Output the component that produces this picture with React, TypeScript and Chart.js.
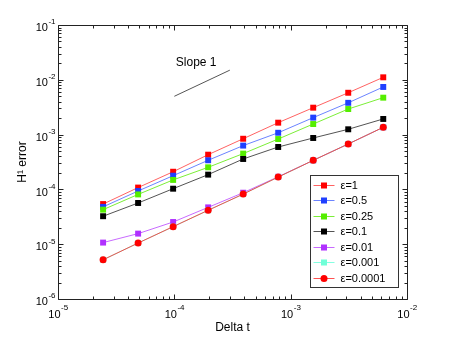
import React, { useEffect, useRef } from 'react';
import { Chart, registerables } from 'chart.js';

Chart.register(...registerables);

// ---- data ----
const deltaT = [2.44140625e-5, 4.8828125e-5, 9.765625e-5, 1.953125e-4, 3.90625e-4, 7.8125e-4, 1.5625e-3, 3.125e-3, 6.25e-3];
const seriesLabels = ['ε=1', 'ε=0.5', 'ε=0.25', 'ε=0.1', 'ε=0.01', 'ε=0.001', 'ε=0.0001'];
const errEps1 = [5.4e-5, 1.08e-4, 2.1e-4, 4.3e-4, 8.4e-4, 1.65e-3, 3.1e-3, 5.8e-3, 1.11e-2];
const errEps05 = [4.8e-5, 9.35e-5, 1.78e-4, 3.4e-4, 6.3e-4, 1.08e-3, 2.04e-3, 3.8e-3, 7.4e-3];
const errEps025 = [4.27e-5, 8.1e-5, 1.49e-4, 2.53e-4, 4.5e-4, 8.3e-4, 1.56e-3, 2.93e-3, 4.72e-3];
const errEps01 = [3.24e-5, 5.65e-5, 1.03e-4, 1.86e-4, 3.59e-4, 5.94e-4, 8.67e-4, 1.25e-3, 1.93e-3];
const errEps001 = [1.07e-5, 1.56e-5, 2.54e-5, 4.7e-5, 8.7e-5, 1.7e-4, 3.39e-4, 6.74e-4, 1.36e-3];
const errEps0001 = [5.2e-6, 1.05e-5, 2.09e-5, 4.16e-5, 8.2e-5, 1.68e-4, 3.39e-4, 6.74e-4, 1.36e-3];
const errEps00001 = [5.2e-6, 1.05e-5, 2.09e-5, 4.16e-5, 8.2e-5, 1.68e-4, 3.39e-4, 6.74e-4, 1.36e-3];
const seriesValues = [errEps1, errEps05, errEps025, errEps01, errEps001, errEps0001, errEps00001];

const slopeX = [1e-4, 3e-4];
const slopeY = [5e-3, 1.5e-2];
const slopeLabel = 'Slope 1';
const slopeLabelX = 1.03e-4;
const slopeLabelY = 2.03e-2;

const xTickValues = [1e-5, 1e-4, 1e-3, 1e-2];
const yTickValues = [1e-6, 1e-5, 1e-4, 1e-3, 1e-2, 1e-1];
const xTitle = 'Delta t';
const yTitle = 'H¹ error';

// ---- styles ----
const FONT = "'Liberation Sans', Arial, Helvetica, sans-serif";
const markerColors = ['#ff0000', '#2040ff', '#55ee00', '#000000', '#b030ff', '#70ffd8', '#ff0000'];
const lineColors = [
  'rgba(255,70,70,0.85)',
  'rgba(70,100,255,0.8)',
  'rgba(100,235,20,0.85)',
  'rgba(40,40,40,0.8)',
  'rgba(190,80,255,0.85)',
  'rgba(110,255,220,0.85)',
  'rgba(255,50,50,0.85)',
];
const markerStyles = ['rect', 'rect', 'rect', 'rect', 'rect', 'rect', 'circle'];

const expOf = (v: number) => String(Math.round(Math.log10(v)));

const drawMarker = (ctx: CanvasRenderingContext2D, style: string, x: number, y: number, color: string) => {
  ctx.fillStyle = color;
  if (style === 'circle') {
    ctx.beginPath();
    ctx.arc(x, y, 3.5, 0, Math.PI * 2);
    ctx.fill();
  } else {
    ctx.fillRect(x - 3, y - 3, 6, 6);
  }
};

const BASE_FONT = `11px ${FONT}`;
const EXP_FONT = `8px ${FONT}`;

const boxTicksPlugin = {
  id: 'boxTicks',
  afterDatasetsDraw(chart: any) {
    const { ctx, chartArea: a, scales } = chart;
    const xs = scales.x;
    const ys = scales.y;
    ctx.save();
    ctx.strokeStyle = '#222';
    ctx.lineWidth = 1;
    ctx.beginPath();
    const L = Math.round(a.left) + 0.5;
    const R = Math.round(a.right) + 0.5;
    const T = Math.round(a.top) + 0.5;
    const B = Math.round(a.bottom) + 0.5;
    ctx.rect(L, T, R - L, B - T);
    for (let d = -5; d <= -2; d++) {
      for (let k = 1; k <= 9; k++) {
        const v = k * Math.pow(10, d);
        if (v < xs.min * 0.999 || v > xs.max * 1.001) continue;
        const len = k === 1 ? 5 : 3;
        const px = Math.round(xs.getPixelForValue(v)) + 0.5;
        ctx.moveTo(px, B); ctx.lineTo(px, B - len);
        ctx.moveTo(px, T); ctx.lineTo(px, T + len);
      }
    }
    for (let d = -6; d <= -1; d++) {
      for (let k = 1; k <= 9; k++) {
        const v = k * Math.pow(10, d);
        if (v < ys.min * 0.999 || v > ys.max * 1.001) continue;
        const len = k === 1 ? 5 : 3;
        const py = Math.round(ys.getPixelForValue(v)) + 0.5;
        ctx.moveTo(L, py); ctx.lineTo(L + len, py);
        ctx.moveTo(R, py); ctx.lineTo(R - len, py);
      }
    }
    ctx.stroke();

    // tick labels: 10 with superscript exponent
    ctx.fillStyle = '#000';
    ctx.textBaseline = 'alphabetic';
    ctx.textAlign = 'left';
    xTickValues.forEach((v) => {
      const px = xs.getPixelForValue(v);
      const e = expOf(v);
      ctx.font = BASE_FONT;
      const wb = ctx.measureText('10').width;
      ctx.font = EXP_FONT;
      const we = ctx.measureText(e).width;
      const x0 = px - (wb + we) / 2;
      ctx.font = BASE_FONT;
      ctx.fillText('10', x0, a.bottom + 19);
      ctx.font = EXP_FONT;
      ctx.fillText(e, x0 + wb + 0.5, a.bottom + 10.7);
    });
    yTickValues.forEach((v) => {
      const py = ys.getPixelForValue(v);
      const e = expOf(v);
      ctx.font = BASE_FONT;
      const wb = ctx.measureText('10').width;
      ctx.font = EXP_FONT;
      const we = ctx.measureText(e).width;
      const xr = a.left - 2.5;
      ctx.font = BASE_FONT;
      ctx.fillText('10', xr - we - 0.5 - wb, py + 6.2);
      ctx.font = EXP_FONT;
      ctx.fillText(e, xr - we, py - 0.6);
    });

    // slope label
    ctx.font = `12px ${FONT}`;
    ctx.textBaseline = 'middle';
    ctx.fillText(slopeLabel, xs.getPixelForValue(slopeLabelX), ys.getPixelForValue(slopeLabelY));
    ctx.restore();
  },
};

const legendPlugin = {
  id: 'matLegend',
  afterDraw(chart: any) {
    const { ctx, chartArea: a } = chart;
    const right = a.right - 9.5;
    const bottom = a.bottom - 12.5;
    const w = 88;
    const rowH = 15.5;
    const h = 14 + rowH * (seriesLabels.length - 1) + 5;
    const left = right - w;
    const top = bottom - h;
    ctx.save();
    ctx.fillStyle = '#fff';
    ctx.fillRect(left, top, w, h);
    ctx.strokeStyle = '#333';
    ctx.lineWidth = 1;
    ctx.strokeRect(Math.round(left) + 0.5, Math.round(top) + 0.5, Math.round(w), Math.round(h));
    ctx.font = `11px ${FONT}`;
    ctx.textBaseline = 'middle';
    ctx.textAlign = 'left';
    seriesLabels.forEach((lab, i) => {
      const cy = Math.round(top + 10 + i * rowH) + 0.5;
      ctx.strokeStyle = lineColors[i];
      ctx.beginPath();
      ctx.moveTo(left + 4, cy);
      ctx.lineTo(left + 25, cy);
      ctx.stroke();
      drawMarker(ctx, markerStyles[i], left + 14.5, cy, markerColors[i]);
      ctx.fillStyle = '#000';
      ctx.fillText(lab, left + 31, cy + 0.5);
    });
    ctx.restore();
  },
};

export default function App() {
  const ref = useRef<HTMLCanvasElement>(null);
  useEffect(() => {
    if (!ref.current) return;
    Chart.defaults.font.family = FONT;
    const datasets: any[] = seriesLabels.map((lab, i) => ({
      label: lab,
      data: deltaT.map((x, j) => ({ x, y: seriesValues[i][j] })),
      borderColor: lineColors[i],
      backgroundColor: markerColors[i],
      borderWidth: 1,
      pointStyle: markerStyles[i],
      pointRadius: markerStyles[i] === 'circle' ? 3.5 : 4.2,
      pointBorderWidth: 0,
      pointBackgroundColor: markerColors[i],
      pointBorderColor: markerColors[i],
      tension: 0,
      order: seriesLabels.length - i,
    }));
    datasets.push({
      label: 'slope',
      data: slopeX.map((x, j) => ({ x, y: slopeY[j] })),
      borderColor: '#555',
      borderWidth: 1,
      pointRadius: 0,
      order: 20,
    });
    const chart = new Chart(ref.current, {
      type: 'line',
      data: { datasets },
      options: {
        animation: false,
        responsive: false,
        layout: { padding: { left: 0, top: 25, right: 43, bottom: 0 } },
        plugins: { legend: { display: false }, tooltip: { enabled: false } },
        scales: {
          x: {
            type: 'logarithmic',
            position: 'bottom',
            min: 1e-5,
            max: 1e-2,
            grid: { display: false, drawTicks: false },
            border: { display: false },
            afterBuildTicks: (s: any) => { s.ticks = xTickValues.map((v) => ({ value: v })); },
            afterFit: (s: any) => { s.height = 38; },
            ticks: { display: false },
            title: { display: true, text: xTitle, color: '#000', font: { size: 12, family: FONT }, padding: { top: 0, bottom: 2 } },
          },
          y: {
            type: 'logarithmic',
            position: 'left',
            min: 1e-6,
            max: 1e-1,
            grid: { display: false, drawTicks: false },
            border: { display: false },
            afterBuildTicks: (s: any) => { s.ticks = yTickValues.map((v) => ({ value: v })); },
            afterFit: (s: any) => { s.width = 58; },
            ticks: { display: false },
            title: { display: true, text: yTitle, color: '#000', font: { size: 12, family: FONT }, padding: { top: 15, bottom: 0 } },
          },
        },
      },
      plugins: [boxTicksPlugin, legendPlugin],
    });
    return () => chart.destroy();
  }, []);
  return (
    <div style={{ position: 'fixed', left: 0, top: 0, width: 450, height: 337, background: '#fff' }}>
      <canvas ref={ref} width={450} height={337} />
    </div>
  );
}
